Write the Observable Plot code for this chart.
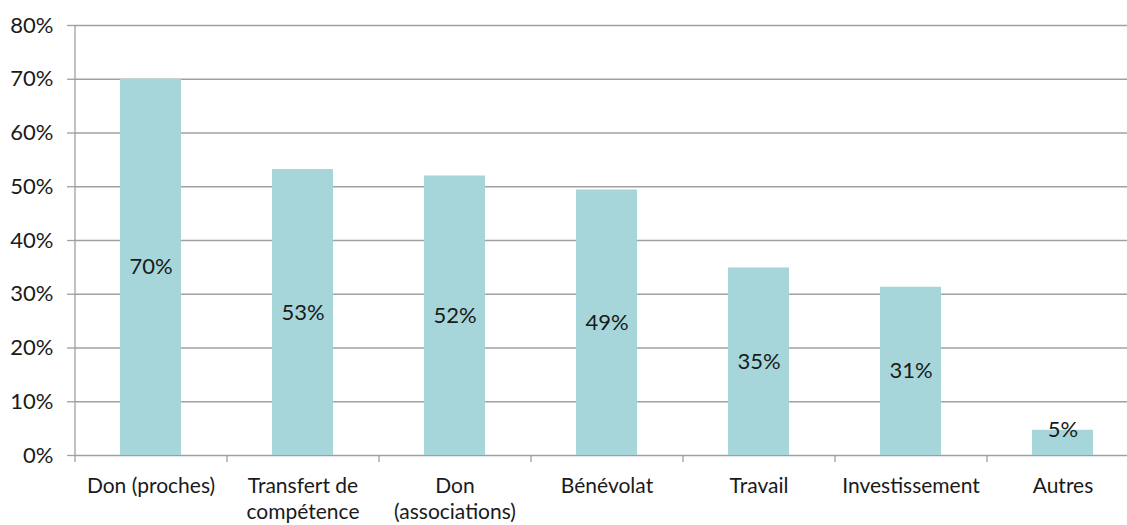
<!DOCTYPE html>
<html><head><meta charset="utf-8">
<script src="https://cdn.jsdelivr.net/npm/d3@7"></script>
<script src="https://cdn.jsdelivr.net/npm/@observablehq/plot@0.6"></script>
<style>
html,body{margin:0;padding:0;background:#fff;overflow:hidden}
</style></head><body><div id="chart"></div>
<script>
const categories = ["Don (proches)", "Transfert de\ncompétence", "Don\n(associations)", "Bénévolat", "Travail", "Investissement", "Autres"];
const values = [70, 53.2, 52.0, 49.4, 34.9, 31.3, 4.7];
const valueLabels = ["70%", "53%", "52%", "49%", "35%", "31%", "5%"];
const yTicks = [0, 10, 20, 30, 40, 50, 60, 70, 80];

const data = categories.map((c, i) => ({cat: c, value: values[i], label: valueLabels[i]}));

const W = 1127, H = 525, mL = 74, mR = -11, mT = 25, mB = 70;
const band = (W - mR - mL) / categories.length;
const font = "Lato, 'Open Sans', sans-serif";
const grid = "#a0a0a0";
const fs = 22;
const fsX = 21;

const chart = Plot.plot({
  width: W, height: H,
  marginLeft: mL, marginRight: mR, marginTop: mT, marginBottom: mB,
  style: {fontFamily: font, fontSize: fs + "px", color: "#1a1a1a", background: "#fff"},
  x: {type: "band", domain: categories, paddingInner: 0.6, paddingOuter: 0.3, align: 0.5, axis: null, label: null},
  y: {type: "linear", domain: [0, 80], axis: null, label: null},
  marks: [
    Plot.gridY(yTicks, {stroke: grid, strokeOpacity: 1, strokeWidth: 1.3}),
    Plot.axisY(yTicks, {tickSize: 7, tickPadding: 14, tickFormat: d => d + "%", stroke: grid, strokeWidth: 1.3, fontSize: fs, fill: "#1a1a1a", label: null}),
    Plot.barY(data, {x: "cat", y: "value", fill: "#a7d6da"}),
    Plot.ruleX([categories[0]], {x: d => d, dx: -band / 2, y1: 0, y2: 80, stroke: grid, strokeWidth: 1.3}),
    Plot.ruleX(categories, {x: d => d, dx: -band / 2, y1: 0, y2: 0, insetBottom: -7, stroke: grid, strokeWidth: 1.3}),
    Plot.axisX(categories, {tickSize: 0, tickPadding: 20, fontSize: fsX, fill: "#1a1a1a", lineHeight: 1.2, tickFormat: d => d, label: null}),
    Plot.text(data, {x: "cat", y: d => d.value < 10 ? d.value : d.value / 2, text: "label", fontSize: fs, fill: "#1a1a1a"})
  ]
});
document.getElementById("chart").appendChild(chart);
</script></body></html>
